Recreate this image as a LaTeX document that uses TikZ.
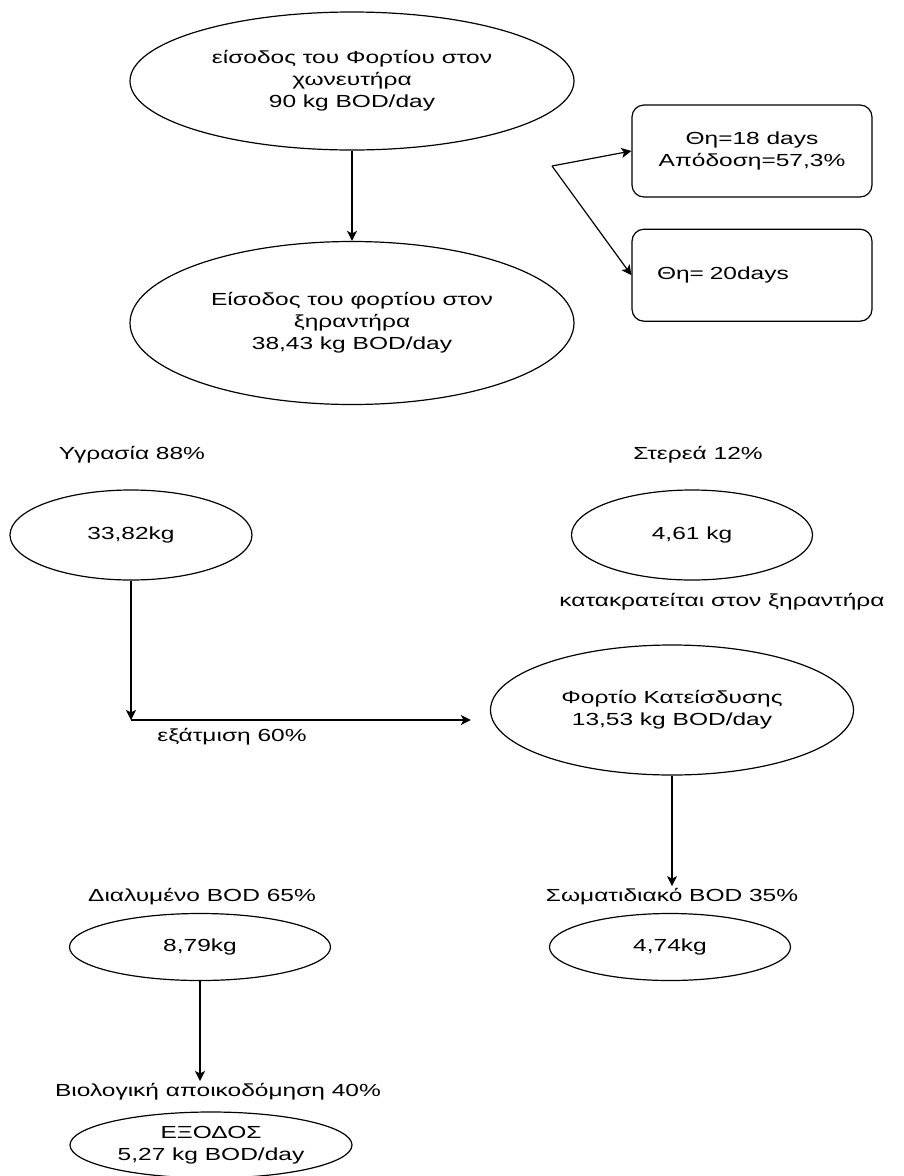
\documentclass[tikz,border=0pt]{standalone}
\usepackage{fontspec}
\setmainfont{Liberation Sans}[FakeStretch=1.4]
\usetikzlibrary{positioning,arrows.meta,shapes.geometric}

\begin{document}
\begin{tikzpicture}[x=1pt, y=-1pt,
  font=\fontsize{17.5}{22}\selectfont,
  line width=1.2pt,
  tank/.style={draw, ellipse, inner sep=0pt, align=center},
  stat/.style={draw, rounded corners=12pt, minimum width=240pt, minimum height=92pt, inner sep=0pt, align=center},
  lbl/.style={inner sep=2pt},
  arr/.style={-{Stealth[length=10pt, width=10pt, inset=2.5pt]}},
  node distance=31pt]
\useasboundingbox (0,0) rectangle (903,1176);
% digester and dryer
\node[tank, minimum width=444pt, minimum height=138pt] (chon) at (352,81) {είσοδος του Φορτίου στον\\χωνευτήρα\\90 kg BOD/day};
\node[tank, minimum width=444pt, minimum height=163pt] (xir) at (352,323) {Είσοδος του φορτίου στον\\ξηραντήρα\\38,43 kg BOD/day};
\node[stat] (theta1) at (752,151) {Θη=18 days\\Απόδοση=57,3\%};
\node[stat, below=of theta1, align=left, text width=190pt, inner xsep=25pt] (theta2) {Θη= 20days};
\coordinate (fork) at (552,166);
\draw[arr] (chon) -- (xir);
\draw[arr] (fork) -- (theta1.west);
\draw[arr] (fork) -- (theta2.west);
% split of the dryer load
\node[lbl] (hum) at (132,455) {Υγρασία 88\%};
\node[lbl] (sol) at (698,455) {Στερεά 12\%};
\node[tank, minimum width=242pt, minimum height=90pt] (moist) at (131,535) {33,82kg};
\node[tank, minimum width=241pt, minimum height=90pt] (solid) at (692,535) {4,61 kg};
\node[lbl] (kept) at (722,602) {κατακρατείται στον ξηραντήρα};
\coordinate (bend) at (131,720);
\node[tank, minimum width=363pt, minimum height=130pt] (load) at (672,710) {Φορτίο Κατείσδυσης\\13,53 kg BOD/day};
\node[lbl] (evap) at (232,737) {εξάτμιση 60\%};
\draw[arr] (moist) -- (bend);
\draw[arr, shorten >=19pt] (bend) -- (bend -| load.west);
% percolation load
\node[lbl] (diss) at (202,897) {Διαλυμένο BOD 65\%};
\node[lbl] (part) at (672,897) {Σωματιδιακό BOD 35\%};
\node[tank, minimum width=261pt, minimum height=67pt] (soluble) at (200,947) {8,79kg};
\node[tank, minimum width=241pt, minimum height=67pt] (partic) at (670,947) {4,74kg};
\draw[arr] (load) -- (part);
\node[lbl] (bio) at (218,1092) {Βιολογική αποικοδόμηση 40\%};
\node[tank, minimum width=282pt, minimum height=66pt] (outflow) at (211,1145) {ΕΞΟΔΟΣ\\5,27 kg BOD/day};
\draw[arr] (soluble) -- (soluble |- bio.north);
\end{tikzpicture}
\end{document}
